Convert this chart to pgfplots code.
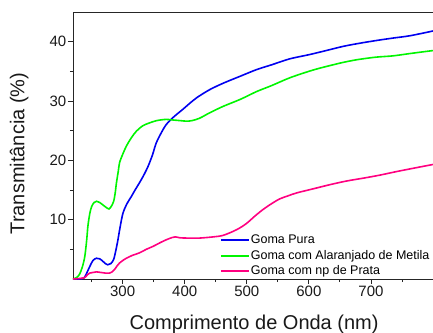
\documentclass[border=0pt]{standalone}
\usepackage{pgfplots}
\pgfplotsset{compat=1.18}
\usepackage{fontspec}
\setmainfont{Liberation Sans}
\definecolor{cblue}{RGB}{0,0,240}
\definecolor{cgreen}{RGB}{0,245,0}
\definecolor{cpink}{RGB}{255,0,128}
\begin{document}
\begin{tikzpicture}
\useasboundingbox (-73bp,-54bp) rectangle (360bp,279bp);
\begin{axis}[
  at={(0,0)}, anchor=south west,
  width=360bp, height=267bp, scale only axis,
  xmin=220, xmax=800, ymin=0, ymax=45,
  axis x line=box, axis y line=left,
  axis line style={-, line width=0.9bp, black!85},
  xtick={300,400,500,600,700},
  minor xtick={250,350,450,550,650,750},
  ytick={10,20,30,40},
  minor ytick={5,15,25,35},
  xtick pos=left, ytick pos=left,
  tick align=outside,
  major tick length=5bp, minor tick length=3bp,
  tick style={line width=0.8bp, black!85},
  /pgf/number format/assume math mode=true,
  ticklabel style={font=\fontsize{15bp}{17bp}\selectfont, text=black!90},
  yticklabel style={inner sep=1.5bp},
  xticklabel style={inner sep=2bp},
  xlabel={Comprimento de Onda (nm)},
  ylabel={Transmitância (\%)},
  label style={font=\fontsize{20bp}{24bp}\selectfont, text=black!90},
  xlabel style={at={(axis description cs:0.503,0)}, anchor=base, yshift=-50bp},
  ylabel style={at={(axis description cs:-0.135,0.47)}, anchor=base},
  legend style={at={(axis description cs:0.408,0.002)}, anchor=south west,
    draw=none, fill=none, inner sep=0pt,
    font=\fontsize{12.5bp}{15bp}\selectfont,
    nodes={inner sep=1bp, text height=9.5bp, text depth=2.5bp},
    row sep=1.6bp},
  legend cell align=left,
  legend image code/.code={\draw[#1, line width=1.8bp] (0bp,0bp) -- (28bp,0bp);},
  every axis plot/.append style={line width=1.6bp, smooth, tension=0.5},
  clip=true,
]
\addplot[cblue] coordinates {
(220,0) (230,0) (238,0.2) (243,1.2) (247,2.1) (252,3.1) (257.6,3.5) (263,3.4)
(268,3.0) (272,2.6) (276,2.4) (281,2.6) (285.5,3.3) (289,4.8) (292.4,6.6)
(296,8.8) (300.5,11.1) (307,12.7) (314,13.9) (320,15.0) (327,16.2) (334,17.5)
(341,19.0) (348,20.9) (354,22.9) (362,24.6) (370,26.0) (381,27.2) (390,28.0)
(397,28.6) (408,29.6) (420,30.6) (440,31.9) (462,33.0) (490,34.2) (516,35.3)
(540,36.1) (569,37.1) (600,37.8) (620,38.3) (655,39.2) (680,39.7) (709,40.2)
(735,40.6) (763,41.0) (800,41.8)
};
\addlegendentry{Goma Pura}
\addplot[cgreen] coordinates {
(220,0) (225,0.2) (230,0.7) (235,2.0) (239,3.8) (242,6.5) (244,8.9) (247,11.0)
(250,12.2) (254,12.9) (258,13.1) (263,12.9) (268,12.5) (273,12.1) (278,11.8)
(282,12.3) (285.5,13.1) (288,14.5) (290,16.2) (293,18.2) (295,19.6) (300,21.0)
(306,22.4) (314,23.8) (322,24.9) (332,25.8) (343,26.3) (355,26.7) (370,26.9)
(381,26.8) (392,26.7) (403,26.6) (412,26.7) (424,27.1) (440,28.0) (462,29.1)
(490,30.3) (516,31.6) (540,32.6) (569,33.9) (600,35.0) (620,35.6) (655,36.5)
(680,37.0) (709,37.4) (735,37.6) (763,38.0) (785,38.3) (800,38.5)
};
\addlegendentry{Goma com Alaranjado de Metila}
\addplot[cpink] coordinates {
(220,0) (238,0.2) (243,0.7) (247,1.0) (252,1.1) (258,1.2) (265,1.1) (272,1.0)
(279,1.0) (283,1.2) (287,1.6) (291,2.2) (295,2.7) (300,3.1) (306,3.5) (316,4.0)
(327,4.4) (338,5.0) (349,5.5) (360,6.1) (370,6.6) (380,7.0) (385,7.1) (392,6.95)
(403,6.9) (424,6.9) (446,7.1) (460,7.3) (473,7.8) (487,8.5) (500,9.4) (513,10.6)
(526,11.7) (540,12.7) (553,13.5) (566,14.0) (580,14.5) (607,15.2) (634,15.9)
(660,16.5) (688,17.0) (714,17.5) (741,18.1) (770,18.7) (800,19.3)
};
\addlegendentry{Goma com np de Prata}
\end{axis}
\end{tikzpicture}
\end{document}
